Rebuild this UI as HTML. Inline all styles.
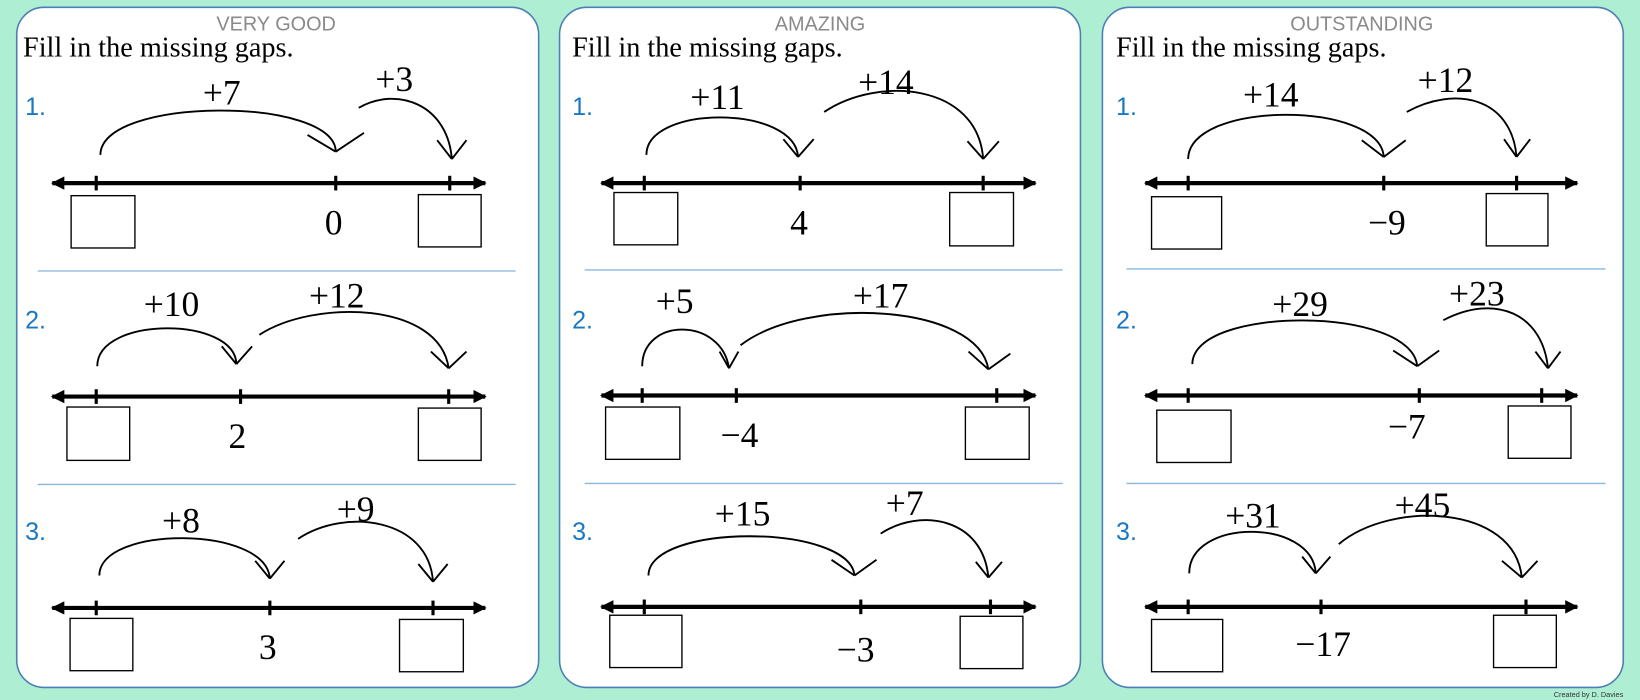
<!DOCTYPE html>
<html><head><meta charset="utf-8"><style>
html,body{margin:0;padding:0;background:#aeeed2;}
svg{display:block}
.t{font-family:"Liberation Sans",sans-serif;font-size:19px;fill:#8a8a8a;text-anchor:middle;font-weight:300}
.f{font-family:"Liberation Serif",serif;font-size:27px;fill:#000}
.n{font-family:"Liberation Sans",sans-serif;font-size:24px;fill:#1a78c2}
.l{font-family:"Liberation Serif",serif;font-size:34px;fill:#000;text-anchor:middle}
.a{fill:none;stroke:#000;stroke-width:1.8}
.nl{stroke:#000;stroke-width:4}
.tk{stroke:#000;stroke-width:3}
.bx{fill:#fff;stroke:#000;stroke-width:1.3}
.sep{stroke:#8ab8dd;stroke-width:1.3}
</style></head><body>
<svg width="1640" height="700" viewBox="0 0 1568 669" preserveAspectRatio="none" xmlns="http://www.w3.org/2000/svg">
<defs>
<marker id="ar" viewBox="0 0 10 10" refX="9" refY="5" markerWidth="3.2" markerHeight="3.2" orient="auto-start-reverse"><path d="M0,0 L10,5 L0,10 z" fill="#000"/></marker>
</defs>
<rect width="1568" height="669" fill="#aeeed2"/>
<rect x="16" y="7" width="499" height="650" rx="26" fill="#fff" stroke="#4d7fb5" stroke-width="1.5"/>
<rect x="535" y="7" width="498" height="650" rx="26" fill="#fff" stroke="#4d7fb5" stroke-width="1.5"/>
<rect x="1054" y="7" width="498" height="650" rx="26" fill="#fff" stroke="#4d7fb5" stroke-width="1.5"/>

<!-- Panel 1 -->
<text class="t" x="264" y="29">VERY GOOD</text>
<text class="f" x="22" y="54">Fill in the missing gaps.</text>
<text class="n" x="24" y="110">1.</text>
<line class="nl" x1="50" y1="175" x2="464" y2="175" marker-start="url(#ar)" marker-end="url(#ar)"/>
<line class="tk" x1="92" y1="168" x2="92" y2="182"/><line class="tk" x1="321" y1="168" x2="321" y2="182"/><line class="tk" x1="430" y1="168" x2="430" y2="182"/>
<rect class="bx" x="68" y="187" width="61" height="50"/><rect class="bx" x="400" y="186" width="60" height="50"/>
<text class="l" x="319" y="224">0</text>
<path class="a" d="M96,148 C96,92 321,92 321,145 M321,145 L294,129 M321,145 L348,127"/>
<text class="l" x="212" y="100">+7</text>
<path class="a" d="M343,103 C380,82 428,100 432,152 M432,152 L418,134 M432,152 L446,134"/>
<text class="l" x="377" y="87">+3</text>
<line class="sep" x1="36" y1="259" x2="493" y2="259"/>

<text class="n" x="24" y="314">2.</text>
<line class="nl" x1="50" y1="379" x2="464" y2="379" marker-start="url(#ar)" marker-end="url(#ar)"/>
<line class="tk" x1="92" y1="372" x2="92" y2="386"/><line class="tk" x1="230" y1="372" x2="230" y2="386"/><line class="tk" x1="429" y1="372" x2="429" y2="386"/>
<rect class="bx" x="64" y="389" width="60" height="51"/><rect class="bx" x="400" y="390" width="60" height="50"/>
<text class="l" x="227" y="428">2</text>
<path class="a" d="M93,350 C93,302 225,302 226,348 M226,348 L212,331 M226,348 L241,331"/>
<text class="l" x="164" y="302">+10</text>
<path class="a" d="M248,320 C300,286 420,288 429,352 M429,352 L412,336 M429,352 L446,336"/>
<text class="l" x="322" y="294">+12</text>
<line class="sep" x1="36" y1="463" x2="493" y2="463"/>

<text class="n" x="24" y="516">3.</text>
<line class="nl" x1="50" y1="581" x2="464" y2="581" marker-start="url(#ar)" marker-end="url(#ar)"/>
<line class="tk" x1="92" y1="574" x2="92" y2="588"/><line class="tk" x1="258" y1="574" x2="258" y2="588"/><line class="tk" x1="414" y1="574" x2="414" y2="588"/>
<rect class="bx" x="67" y="591" width="60" height="50"/><rect class="bx" x="382" y="592" width="61" height="50"/>
<text class="l" x="256" y="630">3</text>
<path class="a" d="M95,550 C95,502 255,502 258,553 M258,553 L244,536 M258,553 L272,536"/>
<text class="l" x="173" y="509">+8</text>
<path class="a" d="M285,515 C330,485 410,495 414,556 M414,556 L400,539 M414,556 L428,539"/>
<text class="l" x="340" y="498">+9</text>

<!-- Panel 2 -->
<text class="t" x="784" y="29">AMAZING</text>
<text class="f" x="547" y="54">Fill in the missing gaps.</text>
<text class="n" x="547" y="110">1.</text>
<line class="nl" x1="575" y1="175" x2="990" y2="175" marker-start="url(#ar)" marker-end="url(#ar)"/>
<line class="tk" x1="616" y1="168" x2="616" y2="182"/><line class="tk" x1="765" y1="168" x2="765" y2="182"/><line class="tk" x1="940" y1="168" x2="940" y2="182"/>
<rect class="bx" x="587" y="184" width="61" height="50"/><rect class="bx" x="908" y="184" width="61" height="51"/>
<text class="l" x="764" y="224">4</text>
<path class="a" d="M618,148 C618,100 760,100 763,150 M763,150 L749,133 M763,150 L778,133"/>
<text class="l" x="686" y="104">+11</text>
<path class="a" d="M788,107 C840,72 935,80 940,152 M940,152 L925,135 M940,152 L955,135"/>
<text class="l" x="847" y="90">+14</text>
<line class="sep" x1="559" y1="258" x2="1016" y2="258"/>

<text class="n" x="547" y="314">2.</text>
<line class="nl" x1="575" y1="378" x2="990" y2="378" marker-start="url(#ar)" marker-end="url(#ar)"/>
<line class="tk" x1="614" y1="371" x2="614" y2="385"/><line class="tk" x1="704" y1="371" x2="704" y2="385"/><line class="tk" x1="953" y1="371" x2="953" y2="385"/>
<rect class="bx" x="579" y="389" width="71" height="50"/><rect class="bx" x="923" y="389" width="61" height="50"/>
<text class="l" x="707" y="427">−4</text>
<path class="a" d="M614,350 C614,303 690,303 697,352 M697,352 L688,336 M697,352 L706,336"/>
<text class="l" x="645" y="299">+5</text>
<path class="a" d="M708,330 C770,282 935,290 945,353 M945,353 L926,336 M945,353 L966,338"/>
<text class="l" x="842" y="294">+17</text>
<line class="sep" x1="559" y1="462" x2="1016" y2="462"/>

<text class="n" x="547" y="516">3.</text>
<line class="nl" x1="575" y1="580" x2="990" y2="580" marker-start="url(#ar)" marker-end="url(#ar)"/>
<line class="tk" x1="616" y1="573" x2="616" y2="587"/><line class="tk" x1="823" y1="573" x2="823" y2="587"/><line class="tk" x1="947" y1="573" x2="947" y2="587"/>
<rect class="bx" x="583" y="588" width="69" height="50"/><rect class="bx" x="918" y="589" width="60" height="50"/>
<text class="l" x="818" y="632">−3</text>
<path class="a" d="M620,550 C620,500 812,500 817,550 M817,550 L795,535 M817,550 L838,535"/>
<text class="l" x="710" y="502">+15</text>
<path class="a" d="M842,510 C880,485 940,495 945,552 M945,552 L933,537 M945,552 L958,537"/>
<text class="l" x="865" y="492">+7</text>

<!-- Panel 3 -->
<text class="t" x="1302" y="29">OUTSTANDING</text>
<text class="f" x="1067" y="54">Fill in the missing gaps.</text>
<text class="n" x="1067" y="110">1.</text>
<line class="nl" x1="1095" y1="175" x2="1508" y2="175" marker-start="url(#ar)" marker-end="url(#ar)"/>
<line class="tk" x1="1136" y1="168" x2="1136" y2="182"/><line class="tk" x1="1323" y1="168" x2="1323" y2="182"/><line class="tk" x1="1450" y1="168" x2="1450" y2="182"/>
<rect class="bx" x="1101" y="188" width="67" height="50"/><rect class="bx" x="1421" y="185" width="59" height="50"/>
<text class="l" x="1326" y="224">−9</text>
<path class="a" d="M1136,152 C1136,96 1320,96 1323,150 M1323,150 L1302,134 M1323,150 L1344,134"/>
<text class="l" x="1215" y="102">+14</text>
<path class="a" d="M1345,107 C1390,82 1445,92 1450,150 M1450,150 L1438,133 M1450,150 L1463,133"/>
<text class="l" x="1382" y="88">+12</text>
<line class="sep" x1="1077" y1="257" x2="1535" y2="257"/>

<text class="n" x="1067" y="314">2.</text>
<line class="nl" x1="1095" y1="378" x2="1508" y2="378" marker-start="url(#ar)" marker-end="url(#ar)"/>
<line class="tk" x1="1136" y1="371" x2="1136" y2="385"/><line class="tk" x1="1357" y1="371" x2="1357" y2="385"/><line class="tk" x1="1474" y1="371" x2="1474" y2="385"/>
<rect class="bx" x="1106" y="392" width="71" height="50"/><rect class="bx" x="1442" y="388" width="60" height="50"/>
<text class="l" x="1345" y="419">−7</text>
<path class="a" d="M1140,348 C1140,292 1350,292 1355,350 M1355,350 L1332,335 M1355,350 L1376,335"/>
<text class="l" x="1243" y="302">+29</text>
<path class="a" d="M1380,306 C1430,280 1475,300 1480,352 M1480,352 L1468,336 M1480,352 L1492,336"/>
<text class="l" x="1412" y="292">+23</text>
<line class="sep" x1="1077" y1="462" x2="1535" y2="462"/>

<text class="n" x="1067" y="516">3.</text>
<line class="nl" x1="1095" y1="580" x2="1508" y2="580" marker-start="url(#ar)" marker-end="url(#ar)"/>
<line class="tk" x1="1136" y1="573" x2="1136" y2="587"/><line class="tk" x1="1263" y1="573" x2="1263" y2="587"/><line class="tk" x1="1459" y1="573" x2="1459" y2="587"/>
<rect class="bx" x="1101" y="592" width="68" height="50"/><rect class="bx" x="1428" y="588" width="60" height="50"/>
<text class="l" x="1265" y="627">−17</text>
<path class="a" d="M1137,548 C1137,495 1255,495 1258,548 M1258,548 L1245,532 M1258,548 L1272,532"/>
<text class="l" x="1198" y="504">+31</text>
<path class="a" d="M1280,520 C1330,478 1448,482 1455,552 M1455,552 L1436,536 M1455,552 L1470,536"/>
<text class="l" x="1360" y="494">+45</text>

<text x="1552" y="666" font-family="Liberation Sans, sans-serif" font-size="7" fill="#333" text-anchor="end">Created by D. Davies</text>
</svg>
</body></html>
